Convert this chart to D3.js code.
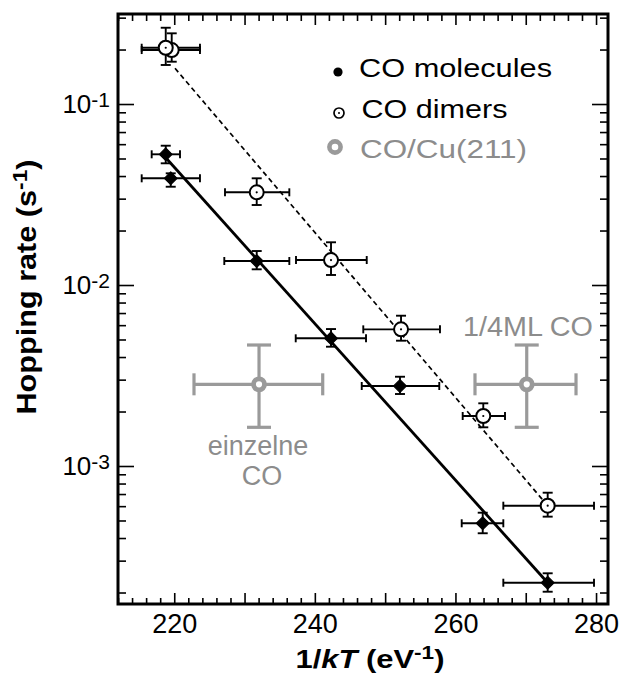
<!DOCTYPE html>
<html><head><meta charset="utf-8">
<script src="https://cdn.jsdelivr.net/npm/d3@7"></script>
<style>
body{margin:0;background:#fff}
svg{display:block}
text{font-family:"Liberation Sans",Arial,Helvetica,sans-serif}
</style>
</head><body>
<svg id="c" width="619" height="678"></svg>
<script>
// ---------- data ----------
// CO molecules (filled)
const molX   = [218.79, 219.50, 231.73, 242.30, 252.11, 263.88, 273.12];
const molY   = [0.05274, 0.03886, 0.01357, 0.005076, 0.002767, 0.0004825, 0.0002265];
const molXLo = [216.79, 215.37, 227.12, 237.28, 246.67, 260.89, 266.81];
const molXHi = [220.82, 223.66, 236.37, 247.28, 257.70, 266.81, 279.71];
const molYLo = [0.04703, 0.03491, 0.01221, 0.004561, 0.002499, 0.000425, 0.000202];
const molYHi = [0.05884, 0.04141, 0.01541, 0.005711, 0.003113, 0.000552, 0.0002554];
// CO dimers (open)
const dimX   = [219.64, 218.79, 231.73, 242.30, 252.26, 263.96, 273.12];
const dimY   = [0.1987, 0.2046, 0.03252, 0.01374, 0.005689, 0.001889, 0.0006035];
const dimXLo = [215.37, 215.37, 227.22, 237.32, 246.89, 261.03, 266.81];
const dimXHi = [223.66, 223.66, 236.37, 247.38, 257.80, 267.05, 279.71];
const dimYLo = [0.1713, 0.1643, 0.02767, 0.01136, 0.004924, 0.001636, 0.000525];
const dimYHi = [0.2458, 0.2639, 0.03886, 0.01722, 0.006767, 0.002220, 0.000712];
// CO/Cu(211) (grey)
const cuX   = [232.06, 270.14];
const cuY   = [0.002827, 0.002827];
const cuXLo = [222.81, 262.78];
const cuXHi = [241.12, 277.15];
const cuYLo = [0.001636, 0.001636];
const cuYHi = [0.004661, 0.004661];
const cuLabels = ["einzelne\nCO", "1/4ML CO"];
// fit lines
const solidFitX  = [218.83, 273.12];
const solidFitY  = [0.0503, 0.0002265];
const dashedFitX = [220.11, 273.12];
const dashedFitY = [0.1575, 0.0006035];
// ticks
const xTickLabels = [220, 240, 260, 280];
const yTickValues = [1e-1, 1e-2, 1e-3];
const yTickExps   = ["-1", "-2", "-3"];
const legendLabels = ["CO molecules", "CO dimers", "CO/Cu(211)"];

// ---------- layout ----------
const L = 118, R = 608, T = 14, B = 604;
const GREY = "#9a9a9a", GREYT = "#8c8c8c";
const svg = d3.select("#c");
const x = d3.scaleLinear().domain([212, 281.7]).range([L, R]);
const y = d3.scaleLog().domain([1.728e-4, 0.3143]).range([B, T]);

// ticks
const xMajor = d3.range(220, 281, 10);
const xMinor = d3.range(212, 282, 2).filter(v => v % 10 !== 0);
const yMinor = [];
for (let e = -4; e <= -1; e++) for (let k = 2; k <= 9; k++) {
  const v = k * Math.pow(10, e);
  if (v > y.domain()[0] && v < y.domain()[1]) yMinor.push(v);
}
function clean(g){ g.select(".domain").remove(); g.selectAll("line").attr("stroke","#000").attr("stroke-width",1.6); }

svg.append("g").attr("transform",`translate(0,${B})`)
  .call(d3.axisBottom(x).tickValues(xMajor).tickSizeInner(-11).tickSizeOuter(0).tickPadding(10)
    .tickFormat(d => xTickLabels.includes(d) ? d : ""))
  .call(clean)
  .call(g => g.selectAll("text").attr("font-size",27).attr("fill","#000").attr("dy","0.72em"));
svg.append("g").attr("transform",`translate(0,${B})`)
  .call(d3.axisBottom(x).tickValues(xMinor).tickSizeInner(-6).tickSizeOuter(0).tickFormat(""))
  .call(clean);
svg.append("g").attr("transform",`translate(0,${T})`)
  .call(d3.axisTop(x).tickValues(xMajor).tickSizeInner(-11).tickSizeOuter(0).tickFormat(""))
  .call(clean);
svg.append("g").attr("transform",`translate(0,${T})`)
  .call(d3.axisTop(x).tickValues(xMinor).tickSizeInner(-7).tickSizeOuter(0).tickFormat(""))
  .call(clean);

svg.append("g").attr("transform",`translate(${L},0)`)
  .call(d3.axisLeft(y).tickValues(yTickValues).tickSizeInner(-16).tickSizeOuter(0).tickPadding(8).tickFormat(""))
  .call(clean)
  .call(g => g.selectAll("text").each(function(d,i){
     const t = d3.select(this).attr("font-size",26).attr("fill","#000");
     t.append("tspan").text("10");
     t.append("tspan").attr("font-size",21).attr("dy",-6).text(yTickExps[i]);
  }));
svg.append("g").attr("transform",`translate(${L},0)`)
  .call(d3.axisLeft(y).tickValues(yMinor).tickSizeInner(-8).tickSizeOuter(0).tickFormat(""))
  .call(clean);
svg.append("g").attr("transform",`translate(${R},0)`)
  .call(d3.axisRight(y).tickValues(yTickValues).tickSizeInner(-16).tickSizeOuter(0).tickFormat(""))
  .call(clean);
svg.append("g").attr("transform",`translate(${R},0)`)
  .call(d3.axisRight(y).tickValues(yMinor).tickSizeInner(-8).tickSizeOuter(0).tickFormat(""))
  .call(clean);

// frame
svg.append("rect").attr("x",L).attr("y",T).attr("width",R-L).attr("height",B-T)
  .attr("fill","none").attr("stroke","#000").attr("stroke-width",3);

// axis titles
const xt = svg.append("text").attr("x",370).attr("y",668).attr("text-anchor","middle")
  .attr("font-size",26).attr("font-weight","bold").attr("textLength",149).attr("lengthAdjust","spacingAndGlyphs");
xt.append("tspan").text("1/");
xt.append("tspan").attr("font-style","italic").text("kT");
xt.append("tspan").text(" (eV");
xt.append("tspan").attr("font-size",19).attr("dy",-9).text("-1");
xt.append("tspan").attr("dy",9).text(")");

const yt = svg.append("text").attr("transform","translate(36,287) rotate(-90)").attr("text-anchor","middle")
  .attr("font-size",27).attr("font-weight","bold").attr("textLength",255).attr("lengthAdjust","spacingAndGlyphs");
yt.append("tspan").text("Hopping rate (s");
yt.append("tspan").attr("font-size",20).attr("dy",-9).text("-1");
yt.append("tspan").attr("dy",9).text(")");

// fit lines
const line = d3.line().x(d => x(d[0])).y(d => y(d[1]));
svg.append("path").datum(solidFitX.map((v,i)=>[v,solidFitY[i]])).attr("d",line)
  .attr("fill","none").attr("stroke","#000").attr("stroke-width",2.8);
svg.append("path").datum(dashedFitX.map((v,i)=>[v,dashedFitY[i]])).attr("d",line)
  .attr("fill","none").attr("stroke","#000").attr("stroke-width",1.7).attr("stroke-dasharray","5,3.5");

// error bars
function errBars(X,Y,XLo,XHi,YLo,YHi,color,sw,capX,capY){
  const g = svg.append("g").attr("stroke",color).attr("stroke-width",sw).attr("fill","none");
  X.forEach((xv,i)=>{
    const cx=x(xv), cy=y(Y[i]);
    g.append("line").attr("x1",x(XLo[i])).attr("x2",x(XHi[i])).attr("y1",cy).attr("y2",cy);
    g.append("line").attr("x1",x(XLo[i])).attr("x2",x(XLo[i])).attr("y1",cy-capY).attr("y2",cy+capY);
    g.append("line").attr("x1",x(XHi[i])).attr("x2",x(XHi[i])).attr("y1",cy-capY).attr("y2",cy+capY);
    g.append("line").attr("x1",cx).attr("x2",cx).attr("y1",y(YLo[i])).attr("y2",y(YHi[i]));
    g.append("line").attr("x1",cx-capX).attr("x2",cx+capX).attr("y1",y(YLo[i])).attr("y2",y(YLo[i]));
    g.append("line").attr("x1",cx-capX).attr("x2",cx+capX).attr("y1",y(YHi[i])).attr("y2",y(YHi[i]));
  });
}
errBars(cuX,cuY,cuXLo,cuXHi,cuYLo,cuYHi,GREY,3.2,12,11);
errBars(molX,molY,molXLo,molXHi,molYLo,molYHi,"#000",1.9,5,4);
errBars(dimX,dimY,dimXLo,dimXHi,dimYLo,dimYHi,"#000",1.9,5,4);

// markers
const diamond = d3.symbol().type(d3.symbolSquare).size(80);
molX.forEach((xv,i)=>{
  svg.append("path").attr("d",diamond()).attr("transform",`translate(${x(xv)},${y(molY[i])}) rotate(45)`)
    .attr("fill","#000").attr("stroke","#000").attr("stroke-width",1.2).attr("stroke-linejoin","round");
});
dimX.forEach((xv,i)=>{
  svg.append("circle").attr("cx",x(xv)).attr("cy",y(dimY[i])).attr("r",7)
    .attr("fill","#fff").attr("stroke","#000").attr("stroke-width",2);
  svg.append("circle").attr("cx",x(xv)).attr("cy",y(dimY[i])).attr("r",1.1).attr("fill","#000");
});
cuX.forEach((xv,i)=>{
  svg.append("circle").attr("cx",x(xv)).attr("cy",y(cuY[i])).attr("r",5.5)
    .attr("fill","#fff").attr("stroke",GREY).attr("stroke-width",4.8);
});

// grey annotations
const a1 = svg.append("text").attr("x",258).attr("y",455).attr("text-anchor","middle")
  .attr("font-size",27).attr("fill",GREYT);
a1.append("tspan").attr("x",258).text(cuLabels[0].split("\n")[0]);
a1.append("tspan").attr("x",262).attr("dy",30).text(cuLabels[0].split("\n")[1]);
svg.append("text").attr("x",528).attr("y",336).attr("text-anchor","middle")
  .attr("font-size",27).attr("fill",GREYT).attr("textLength",130).attr("lengthAdjust","spacingAndGlyphs")
  .text(cuLabels[1]);

// legend
const lg = svg.append("g");
lg.append("circle").attr("cx",338).attr("cy",72).attr("r",4.6).attr("fill","#000");
lg.append("circle").attr("cx",339).attr("cy",113).attr("r",5).attr("fill","#fff").attr("stroke","#000").attr("stroke-width",1.7);
lg.append("circle").attr("cx",339).attr("cy",113).attr("r",1).attr("fill","#000");
lg.append("circle").attr("cx",335).attr("cy",147).attr("r",5.6).attr("fill","#fff").attr("stroke",GREY).attr("stroke-width",4.6);
const legY=[77,117.5,157.5], legX=[359,361.5,360], legW=[193,146,167];
legendLabels.forEach((s,i)=>{
  lg.append("text").attr("x",legX[i]).attr("y",legY[i]).attr("font-size",25)
    .attr("fill", i===2?GREYT:"#000").attr("textLength",legW[i]).attr("lengthAdjust","spacingAndGlyphs").text(s);
});
</script>
</body></html>
